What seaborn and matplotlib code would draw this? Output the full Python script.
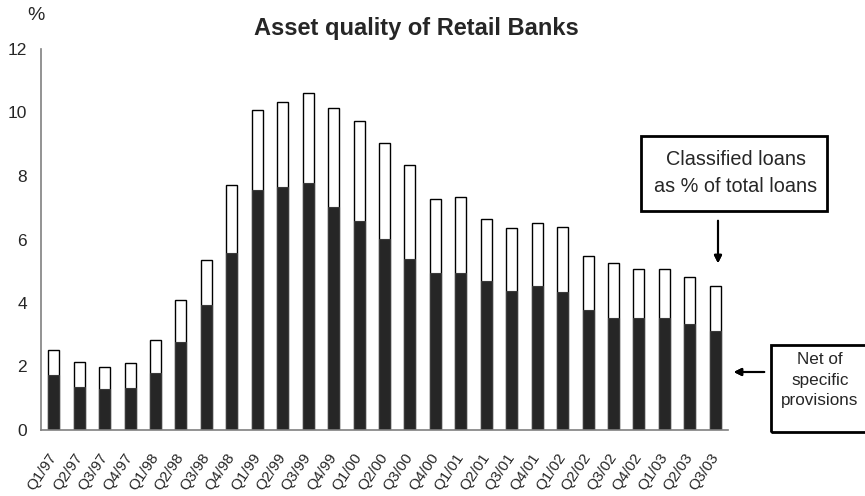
import pandas as pd
import numpy as np
import matplotlib
matplotlib.use('Agg')
import matplotlib.pyplot as plt
from matplotlib.patches import Rectangle
import seaborn as sns

# --- data ---
quarters = ['Q1/97', 'Q2/97', 'Q3/97', 'Q4/97', 'Q1/98', 'Q2/98', 'Q3/98', 'Q4/98',
            'Q1/99', 'Q2/99', 'Q3/99', 'Q4/99', 'Q1/00', 'Q2/00', 'Q3/00', 'Q4/00',
            'Q1/01', 'Q2/01', 'Q3/01', 'Q4/01', 'Q1/02', 'Q2/02', 'Q3/02', 'Q4/02',
            'Q1/03', 'Q2/03', 'Q3/03']
classified = [2.52, 2.14, 1.99, 2.10, 2.83, 4.08, 5.35, 7.71,
              10.07, 10.32, 10.61, 10.13, 9.72, 9.05, 8.36, 7.27,
              7.34, 6.66, 6.36, 6.52, 6.40, 5.47, 5.25, 5.06,
              5.06, 4.83, 4.52]
net_of_provisions = [1.73, 1.36, 1.28, 1.32, 1.80, 2.78, 3.94, 5.57,
                     7.57, 7.66, 7.79, 7.03, 6.59, 6.03, 5.39, 4.94,
                     4.94, 4.69, 4.39, 4.55, 4.36, 3.77, 3.54, 3.54,
                     3.54, 3.35, 3.13]
y_ticks = [0, 2, 4, 6, 8, 10, 12]

df = pd.DataFrame({'Quarter': quarters,
                   'Classified': classified,
                   'Net': net_of_provisions})

sns.set_style('white')
plt.rcParams['font.family'] = ['Liberation Sans', 'DejaVu Sans']

fig = plt.figure(figsize=(8.65, 4.96), dpi=100)
ax = fig.add_axes([41 / 865, 1 - 430 / 496, 687 / 865, 381 / 496])

# classified loans (white, behind) and net of provisions (dark, in front)
sns.barplot(data=df, x='Quarter', y='Classified', color='white', edgecolor='black',
            linewidth=1.0, width=0.43, saturation=1, ax=ax)
sns.barplot(data=df, x='Quarter', y='Net', color='#262626', edgecolor='#3a3a3a',
            linewidth=0.8, width=0.43, saturation=1, ax=ax)

ax.set_xlim(-0.5, len(quarters) - 0.5)
ax.set_ylim(0, 12)
ax.set_yticks(y_ticks)
ax.set_xlabel('')
ax.set_ylabel('')

# tick marks sit between the categories
ax.set_xticks(np.arange(-0.5, len(quarters), 1.0), minor=True)
ax.tick_params(axis='x', which='major', length=0, labelsize=11, pad=18)
ax.tick_params(axis='x', which='minor', length=4, color='#808080', width=1, direction='out')
ax.tick_params(axis='y', length=5, color='#808080', width=1, direction='out',
               labelsize=12.5, pad=5)
for lab in ax.get_xticklabels():
    lab.set_rotation(56)
    lab.set_ha('right')
    lab.set_va('center')
    lab.set_rotation_mode('anchor')

for side in ['top', 'right']:
    ax.spines[side].set_visible(False)
for side in ['left', 'bottom']:
    ax.spines[side].set_color('#808080')
    ax.spines[side].set_linewidth(1.2)

# title and unit
fig.text(416 / 865, 1 - 28 / 496, 'Asset quality of Retail Banks', ha='center', va='center',
         fontsize=17, fontweight='bold')
fig.text(36 / 865, 1 - 16 / 496, '%', ha='center', va='center', fontsize=14)

# callout boxes
fig.add_artist(Rectangle((641 / 865, 1 - 211 / 496), 186 / 865, 75 / 496,
                         transform=fig.transFigure, fill=False, edgecolor='black', lw=2))
fig.text(736 / 865, 1 - 173 / 496, 'Classified loans\nas % of total loans', ha='center',
         va='center', fontsize=14.3, linespacing=1.5)

fig.add_artist(Rectangle((771 / 865, 1 - 432 / 496), 100 / 865, 87 / 496,
                         transform=fig.transFigure, fill=False, edgecolor='black', lw=2,
                         clip_on=False))
fig.text(820 / 865, 1 - 380 / 496, 'Net of\nspecific\nprovisions', ha='center',
         va='center', fontsize=12.3, linespacing=1.45)

# arrows
fig.add_artist(plt.annotate('', xy=(718 / 865, 1 - 266 / 496), xycoords='figure fraction',
                            xytext=(718 / 865, 1 - 218 / 496), textcoords='figure fraction',
                            arrowprops=dict(arrowstyle='-|>', color='black', lw=1.5,
                                            mutation_scale=11)))
fig.add_artist(plt.annotate('', xy=(731 / 865, 1 - 372 / 496), xycoords='figure fraction',
                            xytext=(767 / 865, 1 - 372 / 496), textcoords='figure fraction',
                            arrowprops=dict(arrowstyle='-|>', color='black', lw=1.5,
                                            mutation_scale=11)))

fig.savefig('out.png', dpi=100)
